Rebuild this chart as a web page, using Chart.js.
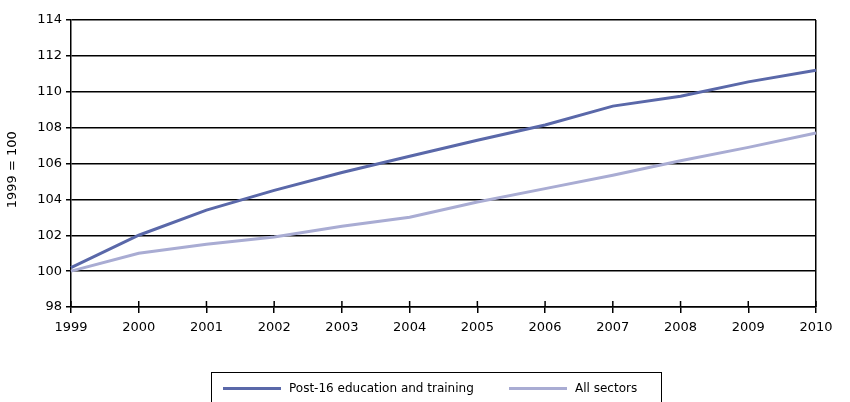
<!DOCTYPE html>
<html>
<head>
<meta charset="utf-8">
<script src="https://cdn.jsdelivr.net/npm/chart.js@4"></script>
<style>
  html, body { margin: 0; padding: 0; background: #fff; }
  #wrap { position: relative; width: 850px; height: 402px; overflow: hidden; }
  #legend {
    position: absolute; left: 211px; top: 372px; width: 451px; height: 40px;
    border: 1.5px solid #000; box-sizing: border-box;
    font-family: "DejaVu Sans", sans-serif; font-size: 12px; color: #000;
  }
  .item { position: absolute; top: 8px; display: flex; align-items: center; white-space: nowrap; }
  .sw { display: inline-block; width: 58px; height: 3px; margin-right: 8px; }
</style>
</head>
<body>
<div id="wrap">
  <canvas id="c" width="850" height="402"></canvas>
  <div id="legend">
    <div class="item" style="left: 11px;"><span class="sw" style="background:#5a68a9"></span><span>Post-16 education and training</span></div>
    <div class="item" style="left: 297px;"><span class="sw" style="background:#a9acd3"></span><span>All sectors</span></div>
  </div>
</div>
<script>
const years = ["1999","2000","2001","2002","2003","2004","2005","2006","2007","2008","2009","2010"];
const post16 = [100.2, 102.0, 103.4, 104.5, 105.5, 106.4, 107.3, 108.15, 109.2, 109.75, 110.55, 111.2];
const allSectors = [100.0, 101.0, 101.5, 101.9, 102.5, 103.0, 103.85, 104.6, 105.35, 106.15, 106.9, 107.7];
const yTicks = [98, 100, 102, 104, 106, 108, 110, 112, 114];

const font = { family: "DejaVu Sans", size: 13 };

const upTicks = {
  id: 'upTicks',
  afterDatasetsDraw(chart) {
    const x = chart.scales.x, ctx = chart.ctx, b = chart.chartArea.bottom;
    ctx.save();
    ctx.strokeStyle = '#000';
    ctx.lineWidth = 1.5;
    years.forEach((y, i) => {
      const px = x.getPixelForValue(i);
      ctx.beginPath(); ctx.moveTo(px, b - 6); ctx.lineTo(px, b); ctx.stroke();
    });
    ctx.restore();
  }
};

new Chart(document.getElementById('c'), {
  type: 'line',
  data: {
    labels: years,
    datasets: [
      { label: 'Post-16 education and training', data: post16, borderColor: '#5a68a9', borderWidth: 3, pointRadius: 0, tension: 0 },
      { label: 'All sectors', data: allSectors, borderColor: '#a9acd3', borderWidth: 3, pointRadius: 0, tension: 0 }
    ]
  },
  options: {
    responsive: false,
    animation: false,
    layout: { padding: { top: 20, right: 34, bottom: 0, left: 0 } },
    plugins: { legend: { display: false }, tooltip: { enabled: false } },
    scales: {
      x: {
        offset: false,
        grid: {
          drawOnChartArea: true,
          color: (c) => c.index === years.length - 1 ? '#000' : 'rgba(0,0,0,0)',
          tickColor: '#000',
          lineWidth: 1.5,
          tickLength: 6
        },
        border: { display: true, color: '#000', width: 1.5 },
        ticks: { color: '#000', font: font, padding: 7, maxRotation: 0, autoSkip: false },
        afterFit: (s) => { s.height = 95; }
      },
      y: {
        min: 98, max: 114,
        afterBuildTicks: (s) => { s.ticks = yTicks.map(v => ({ value: v })); },
        grid: { color: '#000', lineWidth: 1.5, tickLength: 5 },
        border: { display: true, color: '#000', width: 1.5 },
        ticks: { color: '#000', font: font, padding: 4 },
        title: { display: true, text: '1999 = 100   ', color: '#000', font: font, padding: { top: 5, bottom: 4 } },
        afterFit: (s) => { s.width = 71; }
      }
    }
  },
  plugins: [upTicks]
});
</script>
</body>
</html>
